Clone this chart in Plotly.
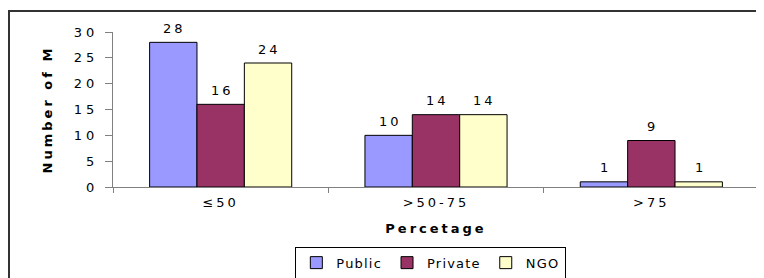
import plotly.graph_objects as go

categories = ["≤50", ">50-75", ">75"]
public = [28, 10, 1]
private = [16, 14, 9]
ngo = [24, 14, 1]
series_names = ["Public", "Private", "NGO"]
colors = ["#9999FF", "#993366", "#FFFFCC"]
y_ticks = [0, 5, 10, 15, 20, 25, 30]

# page body has an 8px margin, so the figure is a bit smaller than the window
W, H = 756, 270
ml, mr, mt, mb = 105, 5, 24, 91
bargap = 0.34
plot_w = W - ml - mr
bar_px = plot_w / len(categories) * (1 - bargap) / 3
FONT = "DejaVu Sans, Verdana, Arial"


def sp(t, ls=3):
    return f'<span style="letter-spacing:{ls}px">{t}</span>'


fig = go.Figure()
annotations = []
for i, (name, vals, col) in enumerate(zip(series_names, [public, private, ngo], colors)):
    fig.add_trace(go.Bar(
        name=sp(name, 1.2), x=categories, y=vals,
        marker=dict(color=col, line=dict(color="#000000", width=1)),
    ))
    for c, v in zip(categories, vals):
        annotations.append(dict(
            x=c, y=v, xref="x", yref="y", text=sp(v, 3), showarrow=False,
            xshift=(i - 1) * bar_px + 1.5, yshift=14, yanchor="middle",
            font=dict(family=FONT, size=13, color="#000000"),
        ))

fig.update_layout(
    width=W, height=H,
    margin=dict(l=ml, r=mr, t=mt, b=mb, autoexpand=False),
    barmode="group", bargap=bargap, bargroupgap=0,
    plot_bgcolor="white", paper_bgcolor="white",
    font=dict(family=FONT, size=13, color="#000000"),
    annotations=annotations,
    showlegend=True,
    legend=dict(
        orientation="h", x=0.492, xanchor="center", y=-0.385, yanchor="top",
        bordercolor="#000000", borderwidth=1, font=dict(size=13),
        tracegroupgap=0,
    ),
    shapes=[dict(type="rect", xref="paper", yref="paper",
                 x0=-0.161, x1=1.5, y0=-1.0, y1=1.1355,
                 line=dict(color="#333333", width=2), layer="below")],
)
fig.update_xaxes(
    type="category", showline=True, linecolor="#808080", linewidth=1,
    ticks="outside", tickson="boundaries", ticklen=5, tickcolor="#808080",
    tickvals=categories, ticktext=[sp(c, 3) for c in categories],
    tickfont=dict(size=13), showgrid=False, automargin=False, ticklabelstandoff=3,
    title=dict(text=sp("<b>Percetage</b>", 3), font=dict(size=13), standoff=15),
)
fig.update_yaxes(
    range=[0, 30], tickvals=y_ticks, ticktext=[sp(t, 4) for t in y_ticks],
    showline=True, linecolor="#808080", linewidth=1,
    ticks="outside", ticklen=7, tickcolor="#808080", showgrid=False, zeroline=False,
    tickfont=dict(size=13), ticklabelstandoff=4, automargin=False,
    title=dict(text=sp("<b>Number of M</b>", 3), font=dict(size=13), standoff=18),
)
fig.write_html("out.html")
